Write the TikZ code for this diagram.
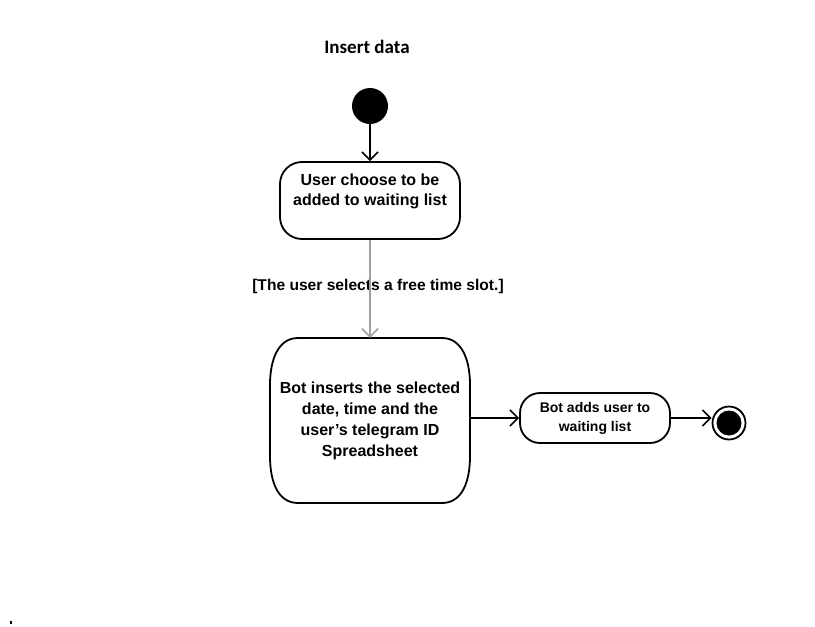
\documentclass[tikz,border=0pt]{standalone}
\usepackage{fontspec}
\setmainfont{Liberation Sans}
\newfontfamily\titlefont{Carlito}
\usetikzlibrary{arrows.meta}
\begin{document}
\begin{tikzpicture}[x=1pt,y=-1pt,
  act/.style={draw=black,line width=1.8pt,rounded corners=#1,align=center,
    font=\bfseries\fontsize{16}{21}\selectfont,inner sep=0pt},
  flow/.style={line width=1.6pt,-{Straight Barb[length=8pt,width=16pt,line width=1.6pt]}},
  guardflow/.style={flow,draw=gray!75,color=gray!75}]
\useasboundingbox (0,0) rectangle (815,627);
\node[font=\titlefont\bfseries\fontsize{19}{22}\selectfont] (title) at (367,47) {Insert data};
\node[circle,fill=black,minimum size=36pt,inner sep=0pt] (start) at (370,106) {};
\node[act=22pt,minimum width=180pt,minimum height=77pt] (choose) at (370,200.5) {};
\node[font=\bfseries\fontsize{16}{20}\selectfont,align=center] (chooset) at (370,191) {User choose to be\\added to waiting list};
\node[align=center,font=\bfseries\fontsize{16}{21}\selectfont,minimum width=200pt,minimum height=165pt,inner sep=0pt] (insert) at (370,420.5)
  {Bot inserts the selected\\date, time and the\\user’s telegram ID\\Spreadsheet};
\draw[line width=1.8pt] (298,338) -- (442,338)
  .. controls (462,338) and (470,360) .. (470,385) -- (470,456)
  .. controls (470,482) and (462,503) .. (442,503) -- (298,503)
  .. controls (278,503) and (270,482) .. (270,456) -- (270,385)
  .. controls (270,360) and (278,338) .. cycle;
\node[act=20pt,minimum width=150pt,minimum height=50pt,font=\bfseries\fontsize{14}{19}\selectfont] (adds) at (595,418)
  {Bot adds user to\\waiting list};
\node[circle,draw=black,line width=1.8pt,minimum size=33pt,inner sep=0pt] (final) at (729,423) {};
\node[circle,fill=black,minimum size=25pt,inner sep=0pt] (finalin) at (729,423) {};
\node[font=\bfseries\fontsize{15.6}{18}\selectfont] (guard) at (378,286) {[The user selects a free time slot.]};
\fill (9.5,620.5) rectangle (11.5,623.5);
\draw[flow] (start) -- (choose);
\draw[guardflow] (choose) -- (insert);
\draw[flow] (insert.east |- adds) -- (adds);
\draw[flow] (adds) -- (final.west |- adds);
\end{tikzpicture}
\end{document}
